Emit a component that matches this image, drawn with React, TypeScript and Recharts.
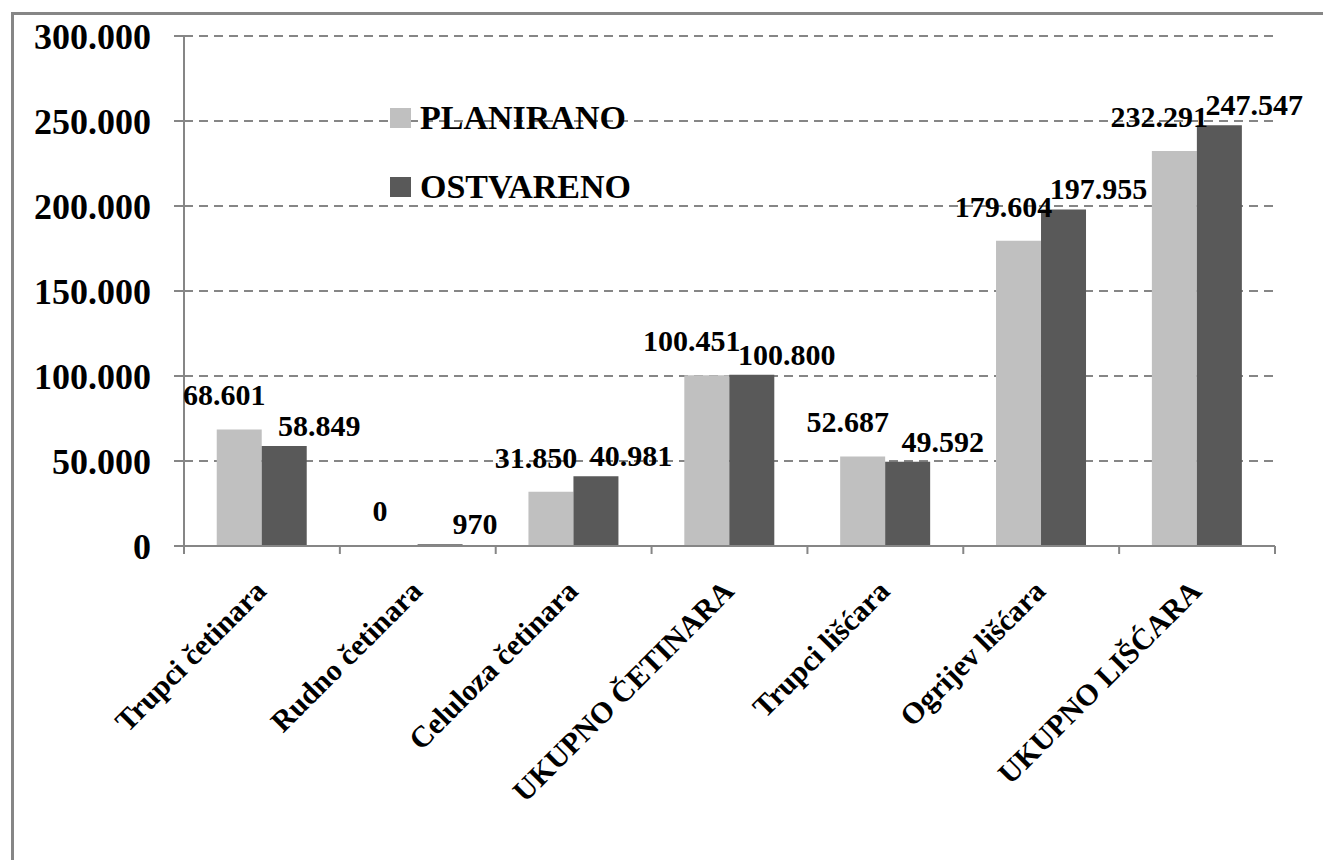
import { Bar, BarChart, CartesianGrid, LabelList, XAxis, YAxis } from "recharts";

const categories = [
    "Trupci četinara",
    "Rudno četinara",
    "Celuloza četinara",
    "UKUPNO ČETINARA",
    "Trupci lišćara",
    "Ogrijev lišćara",
    "UKUPNO LIŠĆARA",
];
const planirano = [68601, 0, 31850, 100451, 52687, 179604, 232291];
const ostvareno = [58849, 970, 40981, 100800, 49592, 197955, 247547];
const yTicks = [0, 50000, 100000, 150000, 200000, 250000, 300000];

const data = categories.map((name, i) => ({
    name,
    planirano: planirano[i],
    ostvareno: ostvareno[i],
}));

const W = 1323;
const H = 860;
const LEFT = 184;
const RIGHT = 48;
const TOP = 36;
const AXIS_Y = 546;
const BAND = (W - LEFT - RIGHT) / categories.length;
const GRAY = "#868686";
const FONT = "Liberation Serif, Times New Roman, Tinos, DejaVu Serif, serif";

const fmt = (v: number) => String(v).replace(/\B(?=(\d{3})+(?!\d))/g, ".");

function CategoryTick(props: any) {
    const { x, payload, index } = props;
    const ax = x + 6;
    const ay = AXIS_Y + 47;
    return (
        <g>
            <line x1={x - BAND / 2} x2={x - BAND / 2} y1={AXIS_Y} y2={AXIS_Y + 8} stroke={GRAY} strokeWidth={2} />
            {index === categories.length - 1 && (
                <line x1={x + BAND / 2} x2={x + BAND / 2} y1={AXIS_Y} y2={AXIS_Y + 8} stroke={GRAY} strokeWidth={2} />
            )}
            <text
                x={ax}
                y={ay}
                textAnchor="end"
                transform={`rotate(-45 ${ax} ${ay})`}
                style={{ fontFamily: FONT, fontWeight: "bold", fontSize: 30 }}
                fill="#000"
            >
                {payload.value}
            </text>
        </g>
    );
}

const makeLabel = (dx: number, dy: number) => (props: any) => {
    const { x, y, width, value } = props;
    return (
        <text
            x={x + width / 2 + dx}
            y={y - dy}
            textAnchor="middle"
            style={{ fontFamily: FONT, fontWeight: "bold", fontSize: 30 }}
            fill="#000"
        >
            {fmt(value)}
        </text>
    );
};

export default function App() {
    return (
        <div style={{ position: "fixed", left: 0, top: 0, width: W, height: H, overflow: "hidden", background: "#fff" }}>
            <div
                style={{
                    position: "absolute",
                    left: 11,
                    top: 12,
                    width: W + 40,
                    height: H + 40,
                    border: `3px solid ${GRAY}`,
                    boxSizing: "border-box",
                }}
            />
            <div style={{ position: "absolute", left: 0, top: 0 }}>
                <BarChart
                    width={W}
                    height={H}
                    data={data}
                    margin={{ top: TOP, right: RIGHT, left: 0, bottom: 0 }}
                    barCategoryGap="21%"
                    barGap={0}
                >
                    <CartesianGrid vertical={false} stroke={GRAY} strokeWidth={2} strokeDasharray="9 6" />
                    <XAxis
                        dataKey="name"
                        height={H - AXIS_Y}
                        axisLine={{ stroke: GRAY, strokeWidth: 2 }}
                        tickLine={false}
                        tickSize={0}
                        tickMargin={0}
                        interval={0}
                        tick={<CategoryTick />}
                    />
                    <YAxis
                        width={LEFT}
                        domain={[0, 300000]}
                        ticks={yTicks}
                        tickFormatter={fmt}
                        axisLine={{ stroke: GRAY, strokeWidth: 2 }}
                        tickLine={{ stroke: GRAY, strokeWidth: 2 }}
                        tickSize={10}
                        tickMargin={23}
                        tick={{ style: { fontFamily: FONT, fontWeight: "bold", fontSize: 36 }, fill: "#000" }}
                    />
                    <Bar dataKey="planirano" fill="#c0c0c0" minPointSize={1} isAnimationActive={false}>
                        <LabelList dataKey="planirano" content={makeLabel(-15, 24)} />
                    </Bar>
                    <Bar dataKey="ostvareno" fill="#595959" isAnimationActive={false}>
                        <LabelList dataKey="ostvareno" content={makeLabel(35, 10)} />
                    </Bar>
                </BarChart>
            </div>
            <div style={{ position: "absolute", left: 390, top: 101, fontFamily: FONT, fontWeight: "bold", fontSize: 34 }}>
                {[
                    { label: "PLANIRANO", color: "#c0c0c0" },
                    { label: "OSTVARENO", color: "#595959" },
                ].map((item, i) => (
                    <div
                        key={item.label}
                        style={{ display: "flex", alignItems: "center", height: 34, lineHeight: "34px", marginBottom: i === 0 ? 35 : 0 }}
                    >
                        <span style={{ display: "inline-block", width: 21, height: 20, background: item.color, marginRight: 9 }} />
                        <span>{item.label}</span>
                    </div>
                ))}
            </div>
        </div>
    );
}
